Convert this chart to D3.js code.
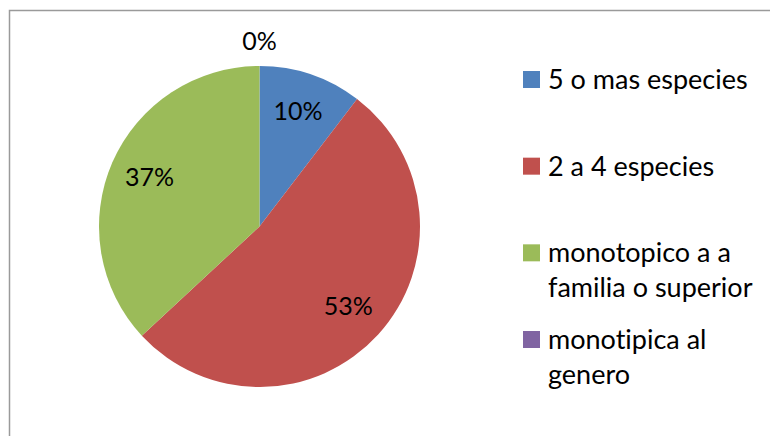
<!DOCTYPE html>
<html>
<head>
<meta charset="utf-8">
<script src="https://cdn.jsdelivr.net/npm/d3@7"></script>
<style>
  body { margin: 0; background: #fff; }
  text { font-family: Lato, "Open Sans", sans-serif; fill: #000; font-variant-ligatures: none; }
</style>
</head>
<body>
<svg id="chart"></svg>
<script>
// pie chart of species groups
const width = 770;
const height = 436;

// data (share of each group, percent)
const categories = ["5 o mas especies", "2 a 4 especies", "monotopico a a familia o superior", "monotipica al genero"];
const legendLines = [["5 o mas especies"], ["2 a 4 especies"], ["monotopico a a", "familia o superior"], ["monotipica al", "genero"]];
const values = [10.4, 52.7, 36.9, 0];
const colors = ["#4F81BD", "#C0504D", "#9BBB59", "#8064A2"];

const svg = d3.select("#chart")
    .attr("width", width)
    .attr("height", height);

// chart border (bottom/right run off the picture)
svg.append("rect")
    .attr("x", 9.5)
    .attr("y", 10.5)
    .attr("width", 800)
    .attr("height", 500)
    .attr("fill", "none")
    .attr("stroke", "#9a9a9a")
    .attr("stroke-width", 1.5);

const cx = 259.5, cy = 226.5, radius = 160.5;

const pie = d3.pie().sort(null).value(d => d);
const arcs = pie(values);

const arc = d3.arc().innerRadius(0).outerRadius(radius);
const labelArc = d3.arc().innerRadius(120).outerRadius(120);
const outerLabelArc = d3.arc().innerRadius(184).outerRadius(184);

const g = svg.append("g").attr("transform", `translate(${cx},${cy})`);

g.selectAll(".slice")
    .data(arcs)
    .enter()
    .append("path")
    .attr("class", "slice")
    .attr("d", arc)
    .attr("fill", (d, i) => colors[i]);

const total = d3.sum(values);
const fmt = d3.format(".0%");

// percent labels, empty slice gets its label outside
g.selectAll(".label")
    .data(arcs)
    .enter()
    .append("text")
    .attr("class", "label")
    .attr("transform", d => {
        const p = d.value === 0 ? outerLabelArc.centroid(d) : labelArc.centroid(d);
        return `translate(${p[0]},${p[1]})`;
    })
    .attr("text-anchor", "middle")
    .attr("dy", "0.3em")
    .style("font-size", "25px")
    .text(d => fmt(d.value / total));

// legend
const legendY = d3.scalePoint()
    .domain(categories)
    .range([79.5, 339.5]);

const legend = svg.selectAll(".legend")
    .data(categories)
    .enter()
    .append("g")
    .attr("class", "legend")
    .attr("transform", d => `translate(523,${legendY(d)})`);

legend.append("rect")
    .attr("x", 0)
    .attr("y", -8.5)
    .attr("width", 17)
    .attr("height", 17)
    .attr("fill", (d, i) => colors[i]);

legend.append("text")
    .attr("x", 25)
    .attr("y", 0)
    .style("font-size", "27px")
    .selectAll("tspan")
    .data((d, i) => legendLines[i])
    .enter()
    .append("tspan")
    .attr("x", 25)
    .attr("dy", (d, j) => j === 0 ? "0.35em" : "35px")
    .text(d => d);
</script>
</body>
</html>
